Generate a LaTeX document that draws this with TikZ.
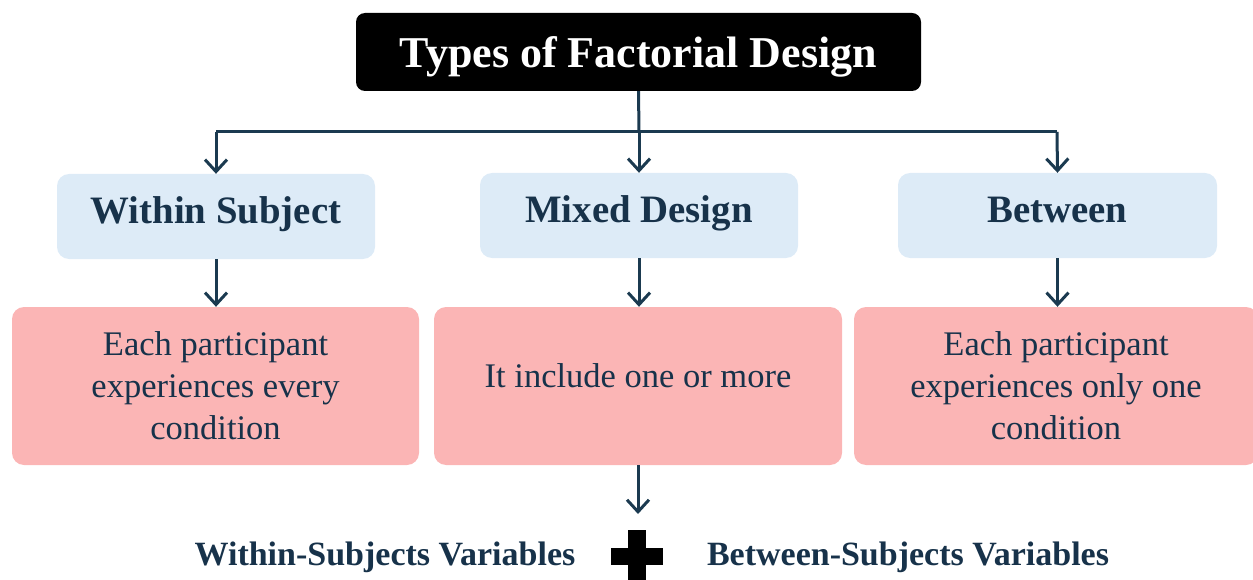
\documentclass[tikz,border=0pt]{standalone}
\usepackage{fontspec}
\setmainfont{Liberation Serif}
\usetikzlibrary{arrows.meta}
\definecolor{navy}{HTML}{17324A}
\definecolor{linkcol}{HTML}{1B3A50}
\definecolor{paleblue}{HTML}{DDEBF7}
\definecolor{rosefill}{HTML}{FBB5B5}
\tikzset{
  titlebox/.style={fill=black, rounded corners=9pt, minimum width=565pt, minimum height=78pt,
    text=white, font=\fontsize{44}{50}\selectfont\bfseries, inner sep=0pt,
    text height=32pt, text depth=0pt},
  typebox/.style={fill=paleblue, rounded corners=12pt, minimum width=318pt, minimum height=85pt,
    text=navy, font=\fontsize{38.8}{44}\selectfont\bfseries, inner sep=0pt,
    text height=25pt, text depth=11pt},
  notebox/.style={fill=rosefill, rounded corners=12pt, minimum height=158pt, inner sep=0pt},
  notetext/.style={text=navy, font=\fontsize{34.5}{42}\selectfont, align=center, inner sep=0pt},
  vartext/.style={text=navy, font=\fontsize{34}{40}\selectfont\bfseries, inner sep=0pt, anchor=base},
  link/.style={draw=linkcol, line width=3pt},
  linkarrow/.style={link, -{Straight Barb[length=12pt, width=22pt, line width=3pt]}}
}
\begin{document}
\begin{tikzpicture}[x=1pt, y=-1pt]
  \useasboundingbox (0,0) rectangle (1253,580);

  % title
  \node[titlebox] (title) at (638.5,52) {Types of Factorial Design};

  % the three design types
  \node[typebox] (within)  at (216,216.5)  {Within Subject};
  \node[typebox] (mixed)   at (639,215.5)  {Mixed Design};
  \node[typebox, minimum width=319pt] (between) at (1057.5,215.5) {Between};

  % descriptions
  \node[notebox, minimum width=407pt] (nwithin)  at (215.5,386) {};
  \node[notebox, minimum width=408pt] (nmixed)   at (638,386)   {};
  \node[notebox, minimum width=404pt] (nbetween) at (1056,386)  {};
  \node[notetext] (twithin) at (215.5,386) {Each participant\\experiences every\\condition};
  \node[notetext] (tmixed) at (638,376) {It include one or more};
  \node[notetext] (tbetween) at (1056,386) {Each participant\\experiences only one\\condition};

  % branching connectors
  \coordinate (hub) at (639,132);
  \coordinate (hubL) at (216,132);
  \coordinate (hubR) at (1057,132);
  \draw[link] (title.south) -- (hub);
  \draw[link] (hubL) -- (hubR);
  \draw[linkarrow] (hubL) -- (within.north);
  \draw[linkarrow] (hub) -- (mixed.north);
  \draw[linkarrow] (hubR) -- (between.north);

  \draw[linkarrow] (within.south) -- (within.south |- nwithin.north);
  \draw[linkarrow] (mixed.south) -- (mixed.south |- nmixed.north);
  \draw[linkarrow] (between.south) -- (between.south |- nbetween.north);

  % mixed design = within + between
  \coordinate (sum) at (638,514);
  \draw[linkarrow] (nmixed.south) -- (sum);
  \node[vartext] (wvar) at (385,565) {Within-Subjects Variables};
  \node[vartext] (bvar) at (908,565) {Between-Subjects Variables};
  \fill[black] (628,530) rectangle (646,585);
  \fill[black] (611,548) rectangle (663,565);
\end{tikzpicture}
\end{document}
